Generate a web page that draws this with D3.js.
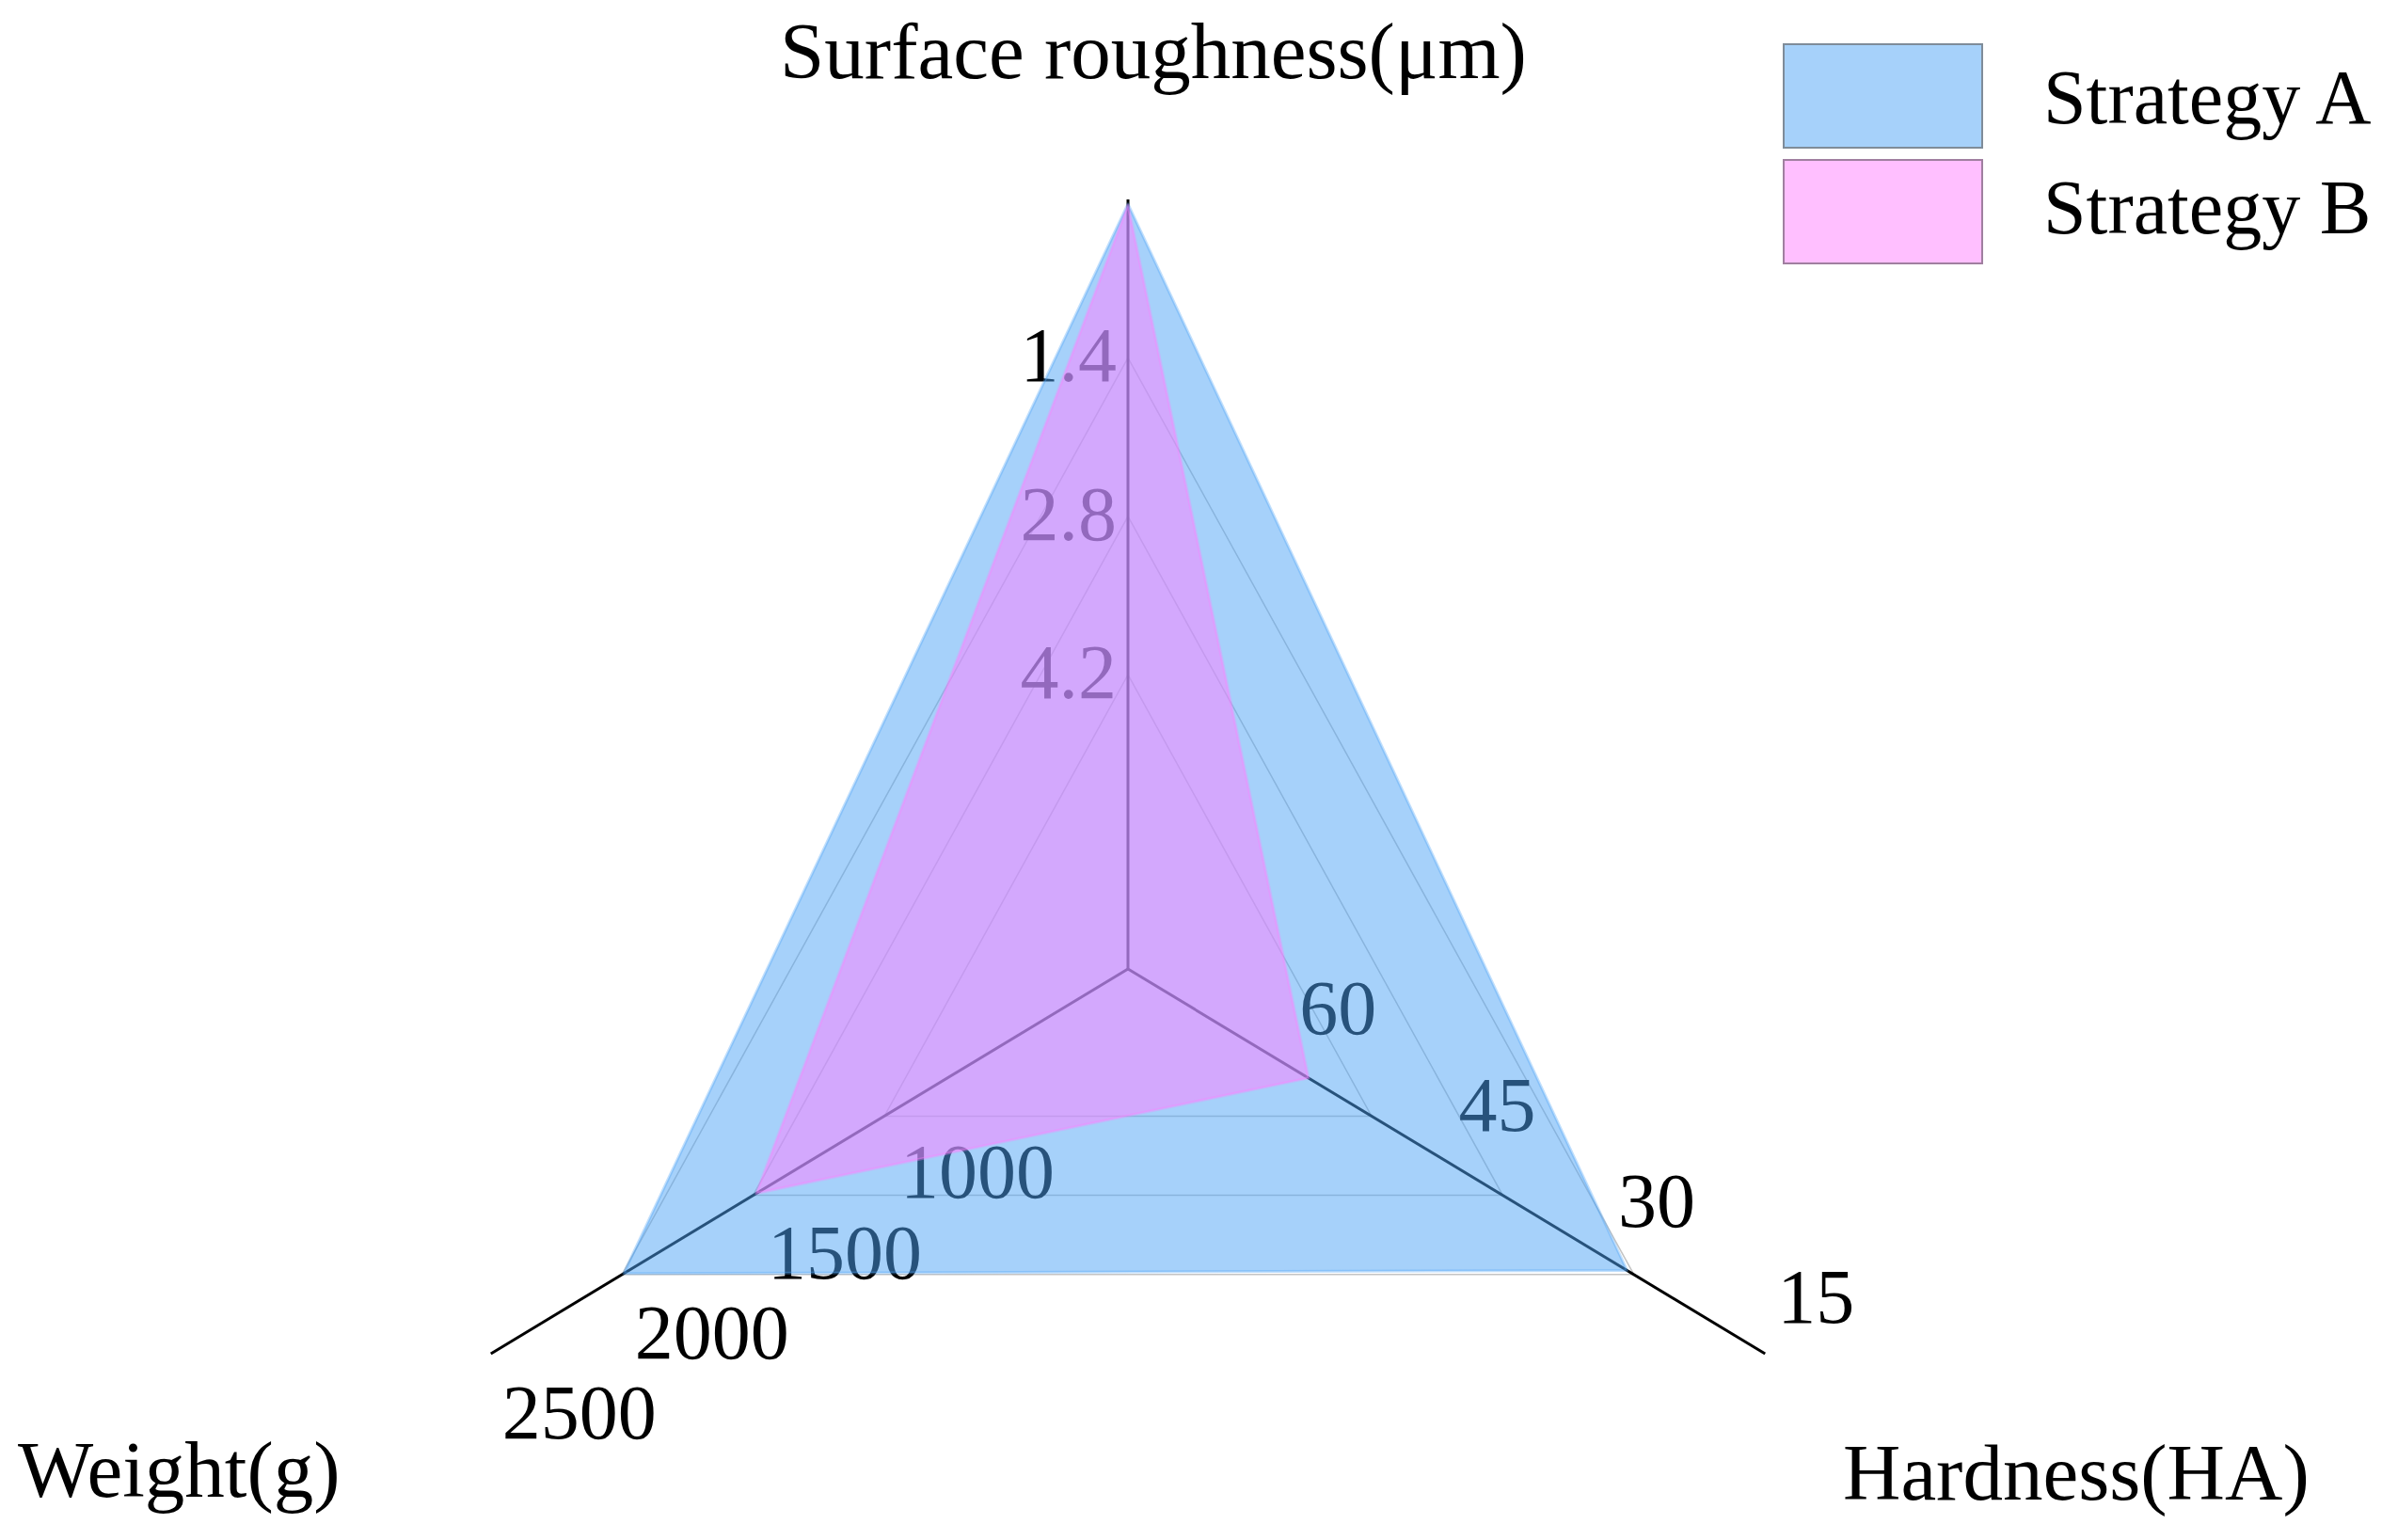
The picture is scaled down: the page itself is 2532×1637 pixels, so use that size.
<!DOCTYPE html>
<meta charset="utf-8">
<style>
body { margin: 0; background: #fff; }
text { font-family: "Liberation Serif", "Times New Roman", serif; fill: #000; }
.axis { stroke: #000; stroke-width: 3px; }
.grid { fill: none; stroke: #c4c4c4; stroke-width: 1.5px; }
</style>
<svg width="2532" height="1637"></svg>
<script src="https://cdn.jsdelivr.net/npm/d3@7"></script>
<script>
var width = 2532,
    height = 1637;

// data
var axisNames = ["Surface roughness(μm)", "Hardness(HA)", "Weight(g)"];
var seriesNames = ["Strategy A", "Strategy B"];
var roughness = [0.04, 0.05];
var hardness = [28, 58];
var weight = [2000, 1500];
var roughTicks = [1.4, 2.8, 4.2];
var hardTicks = [15, 30, 45, 60];
var weightTicks = [1000, 1500, 2000, 2500];
var colors = ["rgb(77,163,245)", "rgb(255,128,255)"];
var borders = ["#7f8c99", "#a07fa0"];

var cx = 1199, cy = 1030, rx = 782, ry = 818;

// each axis: value -> fraction of radius
var rScale = d3.scaleLinear().domain([6.8, 0]).range([0, 1]);
var hScale = d3.scaleLinear().domain([75, 15]).range([0, 1]);
var wScale = d3.scaleLinear().domain([100, 2500]).range([0, 1]);
var angles = [-90, 30, 150].map(function(a) { return a * Math.PI / 180; });

function pt(i, f) {
  return [cx + rx * f * Math.cos(angles[i]), cy + ry * f * Math.sin(angles[i])];
}

var svg = d3.select("svg");

// grid triangles at the roughness ticks
svg.selectAll(".grid")
  .data(roughTicks)
  .enter().append("path")
    .attr("class", "grid")
    .attr("d", function(t) {
      var f = rScale(t);
      return "M" + [0, 1, 2].map(function(i) { return pt(i, f).join(","); }).join("L") + "Z";
    });

// axes
svg.selectAll(".axis")
  .data([0, 1, 2])
  .enter().append("line")
    .attr("class", "axis")
    .attr("x1", cx).attr("y1", cy)
    .attr("x2", function(i) { return pt(i, 1)[0]; })
    .attr("y2", function(i) { return pt(i, 1)[1]; });

// tick labels (sit under the fills)
var tickG = svg.append("g").attr("font-size", 82);

tickG.selectAll(".rt")
  .data(roughTicks)
  .enter().append("text")
    .attr("text-anchor", "end")
    .attr("x", function(d) { return pt(0, rScale(d))[0] - 12; })
    .attr("y", function(d) { return pt(0, rScale(d))[1] + 25; })
    .text(function(d) { return d3.format(".1f")(d); });

tickG.selectAll(".ht")
  .data(hardTicks)
  .enter().append("text")
    .attr("x", function(d) { return pt(1, hScale(d))[0] + 13; })
    .attr("y", function(d) { return pt(1, hScale(d))[1] - 33; })
    .text(function(d) { return d; });

tickG.selectAll(".wt")
  .data(weightTicks)
  .enter().append("text")
    .attr("x", function(d) { return pt(2, wScale(d))[0] + 12; })
    .attr("y", function(d) { return pt(2, wScale(d))[1] + 90; })
    .text(function(d) { return d; });

// series polygons
var polys = seriesNames.map(function(name, k) {
  return [pt(0, rScale(roughness[k])), pt(1, hScale(hardness[k])), pt(2, wScale(weight[k]))];
});

svg.selectAll(".series")
  .data(polys)
  .enter().append("path")
    .attr("class", "series")
    .attr("d", function(p) { return d3.line()(p) + "Z"; })
    .attr("fill", function(p, k) { return colors[k]; })
    .attr("fill-opacity", 0.5)
    .attr("stroke", function(p, k) { return colors[k]; })
    .attr("stroke-opacity", 0.35)
    .attr("stroke-width", 3)
    .attr("stroke-linejoin", "round");

// axis titles
var titleG = svg.append("g").attr("font-size", 85);
titleG.append("text").attr("x", 1226).attr("y", 83).attr("text-anchor", "middle").text(axisNames[0]);
titleG.append("text").attr("x", 1959).attr("y", 1594).text(axisNames[1]);
titleG.append("text").attr("x", 19).attr("y", 1591).text(axisNames[2]);

// legend
var legend = svg.append("g").selectAll("g")
  .data(seriesNames)
  .enter().append("g")
    .attr("transform", function(d, i) { return "translate(1896," + (47 + i * 123) + ")"; });

legend.append("rect")
    .attr("width", 211).attr("height", 110)
    .attr("fill", function(d, i) { return colors[i]; })
    .attr("fill-opacity", 0.5)
    .attr("stroke", function(d, i) { return borders[i]; })
    .attr("stroke-width", 2);

legend.append("text")
    .attr("x", 276).attr("y", function(d, i) { return 84 - 6 * i; })
    .attr("font-size", 82)
    .text(function(d) { return d; });
</script>
